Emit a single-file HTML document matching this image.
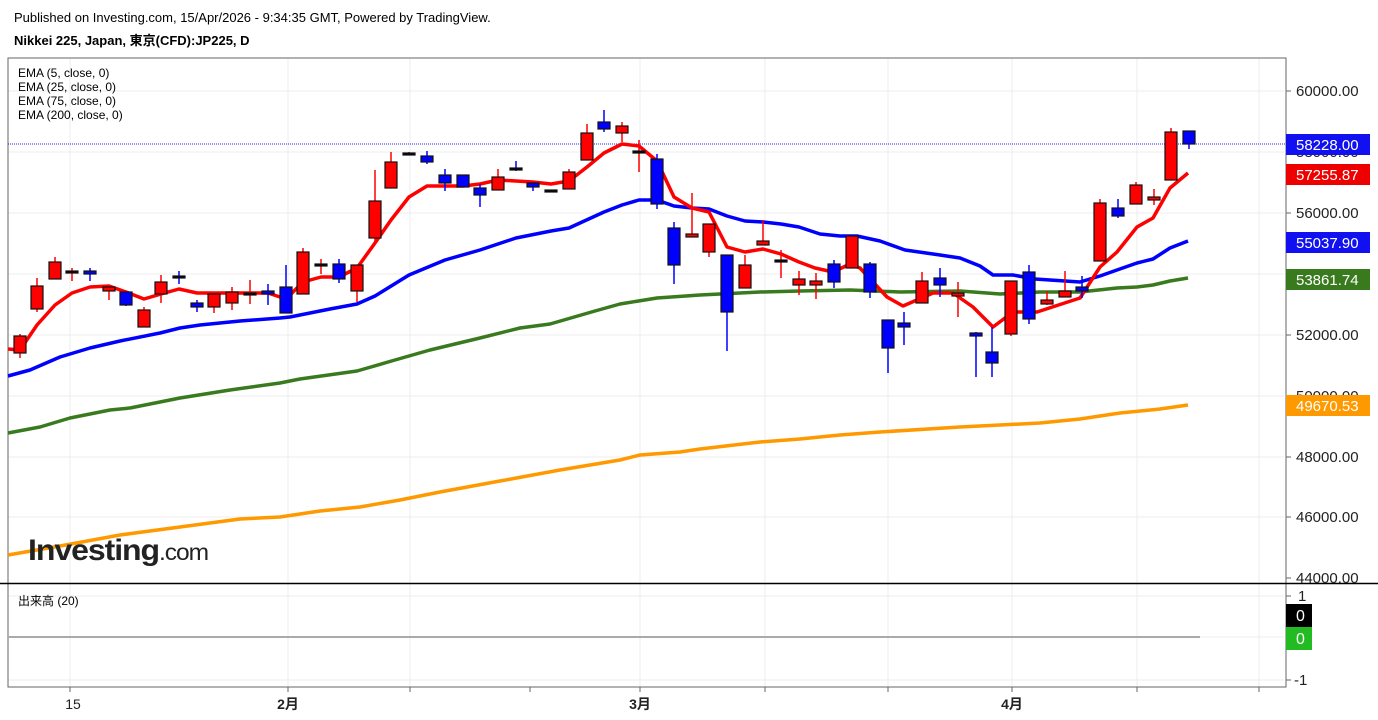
<!DOCTYPE html>
<html><head><meta charset="utf-8"><style>
body{margin:0;background:#fff;width:1378px;height:720px;overflow:hidden}
svg{display:block}
text{font-family:"Liberation Sans","Noto Sans CJK JP",sans-serif}
</style></head><body>
<svg id="s" width="1378" height="720" xmlns="http://www.w3.org/2000/svg">
<text x="14" y="22" font-size="13" fill="#000">Published on Investing.com, 15/Apr/2026 - 9:34:35 GMT, Powered by TradingView.</text>
<text x="14" y="45" font-size="13" font-weight="bold" fill="#000">Nikkei 225, Japan, 東京(CFD):JP225, D</text>
<g stroke="#ececec" stroke-width="1" id="grid">
<line x1="8" y1="91" x2="1284" y2="91"/><line x1="8" y1="152" x2="1284" y2="152"/><line x1="8" y1="213" x2="1284" y2="213"/><line x1="8" y1="274" x2="1284" y2="274"/><line x1="8" y1="335" x2="1284" y2="335"/><line x1="8" y1="396" x2="1284" y2="396"/><line x1="8" y1="457" x2="1284" y2="457"/><line x1="8" y1="517" x2="1284" y2="517"/>
<line x1="70" y1="58" x2="70" y2="687"/><line x1="288" y1="58" x2="288" y2="687"/><line x1="410" y1="58" x2="410" y2="687"/><line x1="640" y1="58" x2="640" y2="687"/><line x1="765" y1="58" x2="765" y2="687"/><line x1="888" y1="58" x2="888" y2="687"/><line x1="1012" y1="58" x2="1012" y2="687"/><line x1="1137" y1="58" x2="1137" y2="687"/><line x1="1259" y1="58" x2="1259" y2="687"/>
<line x1="8" y1="596" x2="1284" y2="596"/><line x1="8" y1="637" x2="1284" y2="637"/><line x1="8" y1="680" x2="1284" y2="680"/>
</g>
<rect x="8" y="58" width="1278" height="629" fill="none" stroke="#666" stroke-width="1"/>
<line x1="0" y1="583.5" x2="1378" y2="583.5" stroke="#000" stroke-width="1.5"/>
<line x1="8" y1="144" x2="1286" y2="144" stroke="#2020ff" stroke-width="1" stroke-dasharray="1,1"/>
<g font-size="12" fill="#000">
<text x="18" y="77">EMA (5, close, 0)</text><text x="18" y="91">EMA (25, close, 0)</text><text x="18" y="105">EMA (75, close, 0)</text><text x="18" y="119">EMA (200, close, 0)</text>
<text x="18" y="605">出来高 (20)</text>
</g>
<g id="lines" fill="none" stroke-width="3.5" stroke-linejoin="round"></g>
<g id="candles"></g>
<line x1="8" y1="637" x2="1200" y2="637" stroke="#aaa" stroke-width="2"/>
<text x="28" y="560" font-size="30" font-weight="bold" fill="#222" letter-spacing="-1" textLength="180" lengthAdjust="spacingAndGlyphs">Investing<tspan font-size="23" font-weight="normal">.com</tspan></text>
<g font-size="15" fill="#222">
<text x="1296" y="96">60000.00</text><text x="1296" y="157">58000.00</text><text x="1296" y="218">56000.00</text><text x="1296" y="340">52000.00</text><text x="1296" y="401">50000.00</text><text x="1296" y="462">48000.00</text><text x="1296" y="522">46000.00</text><text x="1296" y="583">44000.00</text>
<text x="1298" y="601">1</text><text x="1294" y="685">-1</text>
</g>
<g stroke="#666"><line x1="1286" y1="91" x2="1291" y2="91"/><line x1="1286" y1="213" x2="1291" y2="213"/><line x1="1286" y1="335" x2="1291" y2="335"/><line x1="1286" y1="457" x2="1291" y2="457"/><line x1="1286" y1="517" x2="1291" y2="517"/><line x1="1286" y1="578" x2="1291" y2="578"/><line x1="1286" y1="596" x2="1291" y2="596"/><line x1="1286" y1="680" x2="1291" y2="680"/></g>
<rect x="1286" y="134" width="84" height="21" fill="#1010f0"/><text x="1296" y="150" font-size="15" fill="#fff">58228.00</text>
<rect x="1286" y="164" width="84" height="21" fill="#ee0000"/><text x="1296" y="180" font-size="15" fill="#fff">57255.87</text>
<rect x="1286" y="232" width="84" height="21" fill="#1010f0"/><text x="1296" y="248" font-size="15" fill="#fff">55037.90</text>
<rect x="1286" y="269" width="84" height="21" fill="#3a7a1e"/><text x="1296" y="285" font-size="15" fill="#fff">53861.74</text>
<rect x="1286" y="395" width="84" height="21" fill="#ff9900"/><text x="1296" y="411" font-size="15" fill="#fff">49670.53</text>
<rect x="1286" y="604" width="26" height="23" fill="#000"/><text x="1296" y="621" font-size="16" fill="#fff">0</text>
<rect x="1286" y="627" width="26" height="23" fill="#22bb22"/><text x="1296" y="644" font-size="16" fill="#fff">0</text>
<g stroke="#666"><line x1="70" y1="687" x2="70" y2="692"/><line x1="288" y1="687" x2="288" y2="692"/><line x1="410" y1="687" x2="410" y2="692"/><line x1="530" y1="687" x2="530" y2="692"/><line x1="640" y1="687" x2="640" y2="692"/><line x1="765" y1="687" x2="765" y2="692"/><line x1="888" y1="687" x2="888" y2="692"/><line x1="1012" y1="687" x2="1012" y2="692"/><line x1="1137" y1="687" x2="1137" y2="692"/><line x1="1259" y1="687" x2="1259" y2="692"/></g>
<g font-size="14" fill="#222" text-anchor="middle"><text x="73" y="709">15</text><text x="288" y="709" font-weight="bold">2月</text><text x="640" y="709" font-weight="bold">3月</text><text x="1012" y="709" font-weight="bold">4月</text></g>
</svg>
<script>
var NS="http://www.w3.org/2000/svg";
function el(p,t,a){var e=document.createElementNS(NS,t);for(var k in a)e.setAttribute(k,a[k]);p.appendChild(e);return e;}
var L=document.getElementById("lines");
var lines=[
["#ff9900","8,555 60,546 120,535 180,527 240,519 280,517 320,511 360,507 400,500 440,492 500,481 560,470 620,460 640,455 680,452 700,449 760,442 800,439 840,435 880,432 960,427 1000,425 1040,423 1080,419 1120,413 1160,409 1188,405"],
["#3a7a1e","8,433 40,427 70,418 110,410 130,408 180,398 230,390 280,383 300,379 357,371 395,360 430,350 480,338 520,328 550,324 595,311 620,304 657,298 700,295 760,292 800,291 850,290 900,292 960,291 1000,294 1040,292 1080,292 1117,288 1137,287 1153,285 1170,281 1188,278"],
["#0000ff","8,376 30,370 60,357 90,348 120,341 160,333 180,328 200,325 240,321 280,318 290,317 330,309 357,304 375,296 409,275 445,260 480,250 516,238 551,231 569,228 604,212 622,205 639,200 657,200 674,206 692,208 709,209 727,216 745,221 763,222 781,224 799,227 820,234 840,236 857,236 880,241 905,250 940,255 960,258 980,266 993,275 1013,275 1035,279 1080,282 1100,276 1117,270 1137,263 1153,259 1170,248 1188,241"],
["#ff0000","8,349 20,350 37,325 55,305 72,293 90,287 109,286 126,292 144,299 161,294 179,289 197,293 232,293 268,293 286,299 303,282 321,277 339,277 357,268 375,243 391,220 409,197 427,186 463,186 480,184 498,180 516,181 533,182 551,184 569,181 587,167 604,153 622,144 639,146 657,161 674,197 692,208 709,212 727,247 745,252 763,249 781,254 799,262 815,268 833,272 850,264 860,268 887,297 903,306 933,293 953,293 973,307 993,327 1013,312 1037,312 1080,298 1100,267 1117,252 1137,227 1153,218 1170,188 1188,173"]];
lines.forEach(function(l){el(L,"polyline",{points:l[1],stroke:l[0]});});
var C=document.getElementById("candles");
var c=[[20,336,353,334,358,"r"],[37,286,309,278,312,"r"],[55,262,279,257,279,"r"],[72,271,272,268,281,"k"],[90,271,274,268,281,"b"],[109,287,291,286,300,"r"],[126,292,305,292,306,"b"],[144,310,327,307,327,"r"],[161,282,294,275,303,"r"],[179,276,277,271,284,"kb"],[197,303,307,300,312,"b"],[214,294,307,294,313,"r"],[232,292,303,287,310,"r"],[250,293,294,280,304,"k"],[268,291,294,284,305,"b"],[286,287,313,265,313,"b"],[303,252,294,248,294,"r"],[321,264,265,259,274,"k"],[339,264,279,259,283,"b"],[357,265,291,265,302,"r"],
[375,201,238,170,242,"r"],[391,162,188,152,188,"r"],[409,153,154,152,155,"k"],[427,156,162,151,164,"b"],[445,175,183,169,191,"b"],[463,175,187,175,187,"b"],[480,188,195,184,207,"b"],[498,177,190,169,190,"r"],[516,168,169,161,171,"kb"],[533,183,187,183,191,"b"],[551,190,191,190,191,"k"],[569,172,189,169,189,"r"],[587,133,160,124,160,"r"],[604,122,129,110,132,"b"],[622,126,133,122,142,"r"],[639,151,152,140,172,"kr"],[657,159,204,154,209,"b"],[674,228,265,222,284,"b"],[692,234,237,193,236,"r"],[709,224,252,224,257,"r"],[727,255,312,255,351,"b"],[745,265,288,255,288,"r"],[763,241,245,220,245,"r"],[781,260,261,250,278,"kr"],[799,279,285,271,295,"r"],[816,281,285,273,299,"r"],[834,264,282,260,288,"b"],[852,236,268,236,268,"r"],[870,264,292,262,298,"b"],[888,320,348,320,373,"b"],[904,323,327,312,345,"b"],[922,281,303,272,303,"r"],[940,278,285,268,297,"b"],[958,293,296,282,317,"r"],[976,333,336,332,377,"b"],[992,352,363,327,377,"b"],[1011,281,334,281,336,"r"],[1029,272,319,265,324,"b"],[1047,300,304,291,305,"r"],[1065,291,297,271,297,"r"],[1082,287,291,276,298,"b"],[1100,203,261,199,261,"r"],[1118,208,216,199,218,"b"],[1136,185,204,182,204,"r"],[1154,197,200,189,205,"r"],[1171,132,180,128,180,"r"],[1189,131,144,131,149,"b"]];
c.forEach(function(d){
 var col=d[5]=="r"||d[5]=="kr"?"#ff0000":(d[5]=="b"||d[5]=="kb"?"#0000ff":"#ff0000");
 var fill=d[5][0]=="k"?"#000":col;
 el(C,"line",{x1:d[0],x2:d[0],y1:d[3],y2:d[4],stroke:col,"stroke-width":1.5});
 var h=Math.max(d[2]-d[1],2);
 el(C,"rect",{x:d[0]-6,y:d[1],width:12,height:h,fill:fill,stroke:"#111","stroke-width":1.2});
});
</script>
</body></html>
